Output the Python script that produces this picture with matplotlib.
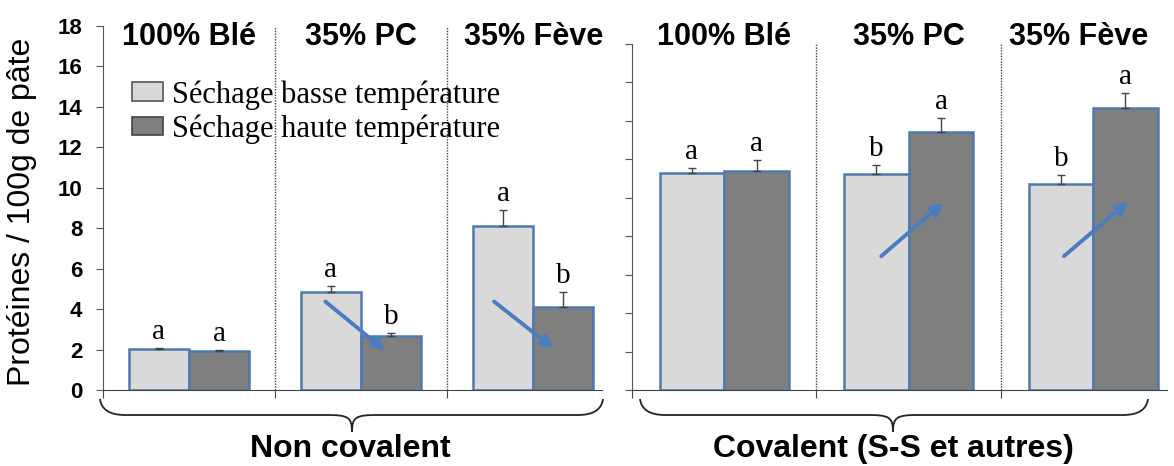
import numpy as np
import matplotlib
matplotlib.use('Agg')
import matplotlib.pyplot as plt
import matplotlib.transforms as mtransforms
from matplotlib.path import Path
from matplotlib.patches import PathPatch, Patch

plt.rcParams['font.family'] = ['Liberation Sans', 'DejaVu Sans']

groups = ['100% Blé', '35% PC', '35% Fève']
series = ['Séchage basse température', 'Séchage haute température']

# Non covalent (left panel)
nc_low = [2.03, 4.85, 8.12]
nc_high = [1.92, 2.67, 4.10]
nc_low_err = [0.05, 0.30, 0.80]
nc_high_err = [0.06, 0.15, 0.75]
nc_low_let = ['a', 'a', 'a']
nc_high_let = ['a', 'b', 'b']

# Covalent (right panel)
cv_low = [11.29, 11.24, 10.72]
cv_high = [11.39, 13.42, 14.67]
cv_low_err = [0.26, 0.46, 0.47]
cv_high_err = [0.58, 0.73, 0.78]
cv_low_let = ['a', 'b', 'b']
cv_high_let = ['a', 'a', 'a']

# arrows: group index, start (dx, y), end (dx, y)
nc_arrows = [(1, (-0.22, 4.46), (0.15, 1.88)), (2, (-0.24, 4.46), (0.13, 1.98))]
cv_arrows = [(1, (-0.16, 6.87), (0.20, 9.85)), (2, (-0.17, 6.87), (0.20, 9.89))]

light = '#d9d9d9'
dark = '#7f7f7f'
edge = '#4f79b0'
arrow_col = '#4a7dc0'
W = 0.35

fig = plt.figure(figsize=(11.74, 4.66), dpi=100)
H = 466.0
axL = fig.add_axes([103 / 1174, (H - 390) / H, 499 / 1174, 364 / H])
axR = fig.add_axes([632 / 1174, (H - 390) / H, 535 / 1174, 346 / H])


def panel(ax, low, high, lerr, herr, llet, hlet, arrows, title_dx):
    x = np.arange(len(groups))
    ax.bar(x - W / 2, low, W, color=light, edgecolor=edge, linewidth=1.8, zorder=2)
    ax.bar(x + W / 2, high, W, color=dark, edgecolor=edge, linewidth=1.8, zorder=2)
    ax.errorbar(x - W / 2, low, yerr=[np.zeros(3), lerr], fmt='none', ecolor='#444444',
                elinewidth=1, capsize=3, capthick=1, zorder=3)
    ax.errorbar(x + W / 2, high, yerr=[np.zeros(3), herr], fmt='none', ecolor='#444444',
                elinewidth=1, capsize=3, capthick=1, zorder=3)
    for i in range(len(groups)):
        ax.text(x[i] - W / 2, low[i] + lerr[i] + 0.15, llet[i], ha='center', va='bottom',
                family='Liberation Serif', fontsize=21)
        ax.text(x[i] + W / 2, high[i] + herr[i] + 0.15, hlet[i], ha='center', va='bottom',
                family='Liberation Serif', fontsize=21)
    for g, (sx, sy), (ex, ey) in arrows:
        ax.annotate('', xy=(g + ex, ey), xytext=(g + sx, sy),
                    arrowprops=dict(arrowstyle='-|>,head_length=0.7,head_width=0.35',
                                    color=arrow_col, lw=2.8), zorder=4)
    for b in [0.5, 1.5]:
        ax.axvline(b, color='#444444', lw=1, ls=(0, (1, 1)), zorder=1)
    ax.set_xlim(-0.5, 2.4)
    ax.set_ylim(0, 18)
    ax.set_yticks(range(0, 19, 2))
    ax.set_xticks([-0.5, 0.5, 1.5])
    ax.set_xticklabels([])
    ax.tick_params(axis='x', direction='out', length=6, color='#444444')
    ax.tick_params(axis='y', direction='out', length=5, color='#555555')
    for s in ['top', 'right']:
        ax.spines[s].set_visible(False)
    ax.spines['left'].set_color('#555555')
    ax.spines['bottom'].set_color('#444444')
    ax.patch.set_alpha(0)
    tr = mtransforms.blended_transform_factory(ax.transData, fig.transFigure)
    for i, g in enumerate(groups):
        ax.text(i + title_dx[i], 1 - 37 / H, g, transform=tr,
                ha='center', va='center', fontsize=22, fontweight='bold')


panel(axL, nc_low, nc_high, nc_low_err, nc_high_err, nc_low_let, nc_high_let, nc_arrows,
      [0.0, 0.0, 0.0])
panel(axR, cv_low, cv_high, cv_low_err, cv_high_err, cv_low_let, cv_high_let, cv_arrows,
      [0.0, 0.0, -0.08])

axL.tick_params(axis='y', labelsize=16, pad=10)
for t in axL.get_yticklabels():
    t.set_fontweight('bold')
axR.set_yticklabels([])

fig.text(22 / 1174, 1 - 212 / H, 'Protéines / 100g de pâte', rotation=90,
         ha='center', va='center', fontsize=23)

# legend
handles = [Patch(facecolor=light, edgecolor='#555555', lw=1.2),
           Patch(facecolor=dark, edgecolor='#444444', lw=1.2)]
fig.legend(handles, series, loc='upper left', bbox_to_anchor=(132 / 1174, 1 - 80 / H),
           frameon=False, prop={'family': 'Liberation Serif', 'size': 22},
           handlelength=1.0, handleheight=0.55, handletextpad=0.3,
           labelspacing=0.15, borderpad=0, borderaxespad=0)

# braces below the panels
over = fig.add_axes([0, 0, 1, 1], zorder=-1)
over.set_xlim(0, 1174)
over.set_ylim(H, 0)
over.axis('off')


def brace(x0, x1, xm, ytip, yline, ycusp):
    r = 25
    verts = [(x0, ytip), (x0 + 2, yline), (x0 + r, yline),
             (xm - r, yline),
             (xm - 4, yline), (xm, yline + 2), (xm, ycusp),
             (xm, yline + 2), (xm + 4, yline), (xm + r, yline),
             (x1 - r, yline),
             (x1 - 2, yline), (x1, ytip)]
    codes = [Path.MOVETO, Path.CURVE3, Path.CURVE3, Path.LINETO,
             Path.CURVE4, Path.CURVE4, Path.CURVE4,
             Path.CURVE4, Path.CURVE4, Path.CURVE4,
             Path.LINETO, Path.CURVE3, Path.CURVE3]
    over.add_patch(PathPatch(Path(verts, codes), fill=False, lw=1.3, edgecolor='#222222'))


brace(100, 603, 352, 399, 415, 432)
brace(640, 1148, 893, 399, 415, 432)

fig.text(350 / 1174, 1 - 449 / H, 'Non covalent', ha='center', va='center',
         fontsize=23, fontweight='bold')
fig.text(893 / 1174, 1 - 449 / H, 'Covalent (S-S et autres)', ha='center', va='center',
         fontsize=23, fontweight='bold')

fig.savefig('out.png', dpi=100)
